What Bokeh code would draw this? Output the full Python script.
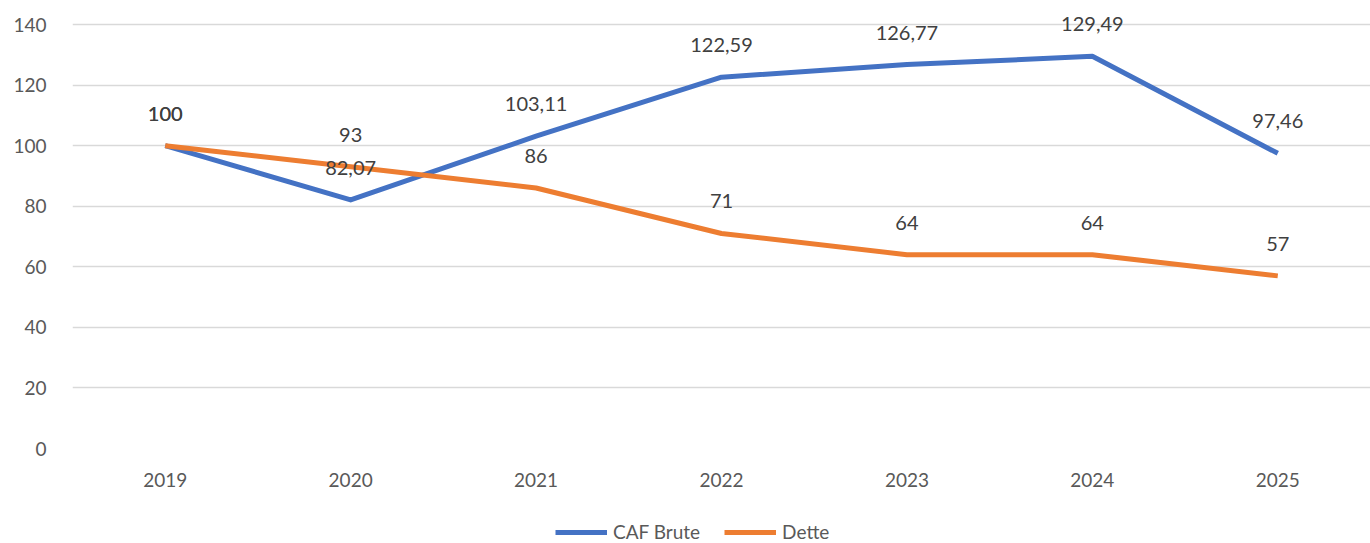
from bokeh.plotting import figure
from bokeh.layouts import column
from bokeh.models import (ColumnDataSource, Range1d, FactorRange, FixedTicker,
                          Legend, LegendItem, LabelSet)
from bokeh.core.properties import value
from bokeh.embed import file_html
from bokeh.resources import INLINE

years = ["2019", "2020", "2021", "2022", "2023", "2024", "2025"]
caf_brute = [100, 82.07, 103.11, 122.59, 126.77, 129.49, 97.46]
dette = [100, 93, 86, 71, 64, 64, 57]
y_ticks = [0, 20, 40, 60, 80, 100, 120, 140]
series_names = ["CAF Brute", "Dette"]

FONT = "Lato"
BLUE = "#4472C4"
ORANGE = "#ED7D31"


def fmt(v):
    return f"{v:g}".replace(".", ",")


FRAME_H = 439
Y_TOP = 140 * FRAME_H / 424.0  # headroom so the top labels are not clipped

p = figure(x_range=FactorRange(*years), y_range=Range1d(0, Y_TOP),
           frame_width=1298, frame_height=FRAME_H,
           output_backend="svg", toolbar_location=None,
           min_border_left=72, min_border_right=0, min_border_top=9,
           min_border_bottom=65)
p.outline_line_color = None
p.background_fill_color = "white"
p.border_fill_color = "white"

src_caf = ColumnDataSource(dict(x=years, y=caf_brute, t=[fmt(v) for v in caf_brute]))
src_det = ColumnDataSource(dict(x=years, y=dette, t=[fmt(v) for v in dette]))

p.line("x", "y", source=src_caf, line_color=BLUE, line_width=5, line_join="round")
p.line("x", "y", source=src_det, line_color=ORANGE, line_width=5, line_join="round")

for src in (src_caf, src_det):
    lbl = LabelSet(x="x", y="y", text="t", source=src, y_offset=32,
                   text_align="center", text_baseline="middle",
                   text_font=value(FONT), text_font_size="20px",
                   text_color="#404040")
    p.add_layout(lbl)

# axes
p.yaxis.ticker = FixedTicker(ticks=y_ticks)
for ax in (p.xaxis[0], p.yaxis[0]):
    ax.axis_line_color = None
    ax.major_tick_line_color = None
    ax.minor_tick_line_color = None
    ax.major_label_text_font = FONT
    ax.major_label_text_font_size = "19px"
    ax.major_label_text_color = "#595959"
p.yaxis.major_label_standoff = 20
p.xaxis.major_label_standoff = 18

p.xgrid.grid_line_color = None
p.ygrid.grid_line_color = "#D9D9D9"
p.ygrid.grid_line_width = 1.5

# legend strip underneath the chart
lf = figure(width=1370, height=30, x_range=Range1d(0, 1), y_range=Range1d(0, 1),
            output_backend="svg", toolbar_location=None,
            x_axis_location=None, y_axis_location=None,
            min_border=0)
lf.outline_line_color = None
lf.xgrid.grid_line_color = None
lf.ygrid.grid_line_color = None
items = []
for name, col in zip(series_names, [BLUE, ORANGE]):
    r = lf.line(x=[float("nan")], y=[float("nan")], line_color=col, line_width=5)
    items.append(LegendItem(label=name, renderers=[r]))
legend = Legend(items=items, orientation="horizontal", location=(483, 0))
legend.border_line_color = None
legend.background_fill_alpha = 0
legend.label_text_font = FONT
legend.label_text_font_size = "19px"
legend.label_text_color = "#595959"
legend.glyph_width = 52
legend.label_standoff = 6
legend.spacing = 24
legend.padding = 2
legend.margin = 0
lf.add_layout(legend, "center")

layout = column(p, lf, spacing=0)
open("out.html", "w").write(file_html(layout, INLINE))
